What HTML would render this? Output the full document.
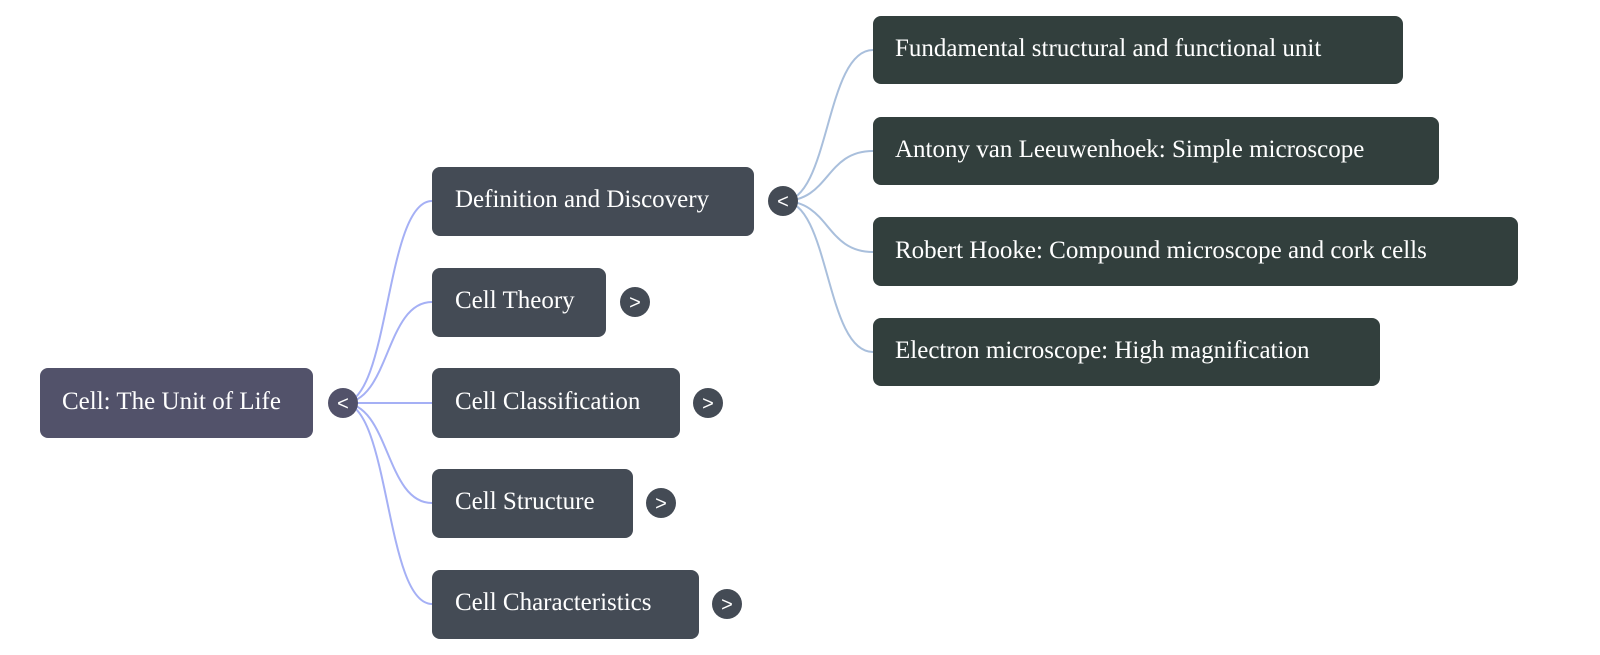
<!DOCTYPE html>
<html><head><meta charset="utf-8"><style>
html,body{margin:0;padding:0;background:#fff;width:1600px;height:655px;overflow:hidden}
text{font-family:"Liberation Serif",serif;font-size:25px;fill:#fff}
.c{font-family:"Liberation Sans",sans-serif;font-size:20px;text-anchor:middle}
</style></head><body>
<svg width="1600" height="655" viewBox="0 0 1600 655" xmlns="http://www.w3.org/2000/svg">
<g fill="none" stroke="#a5b0f5" stroke-width="2">
<path d="M343 403 C390 403,385 201,432 201"/>
<path d="M343 403 C390 403,385 302,432 302"/>
<path d="M343 403 L432 403"/>
<path d="M343 403 C390 403,385 503,432 503"/>
<path d="M343 403 C390 403,385 604,432 604"/>
</g>
<g fill="none" stroke="#a9bfdc" stroke-width="2">
<path d="M783 201 C830 201,825 50,873 50"/>
<path d="M783 201 C830 201,825 151,873 151"/>
<path d="M783 201 C830 201,825 252,873 252"/>
<path d="M783 201 C830 201,825 352,873 352"/>
</g>
<rect x="40" y="368" width="273" height="70" rx="8" fill="#52526a"/>
<text x="62" y="409">Cell: The Unit of Life</text>
<g fill="#444b55">
<rect x="432" y="167" width="322" height="69" rx="8"/>
<rect x="432" y="268" width="174" height="69" rx="8"/>
<rect x="432" y="368" width="248" height="70" rx="8"/>
<rect x="432" y="469" width="201" height="69" rx="8"/>
<rect x="432" y="570" width="267" height="69" rx="8"/>
</g>
<text x="455" y="207">Definition and Discovery</text>
<text x="455" y="308">Cell Theory</text>
<text x="455" y="409">Cell Classification</text>
<text x="455" y="509">Cell Structure</text>
<text x="455" y="610">Cell Characteristics</text>
<g fill="#323f3d">
<rect x="873" y="16" width="530" height="68" rx="8"/>
<rect x="873" y="117" width="566" height="68" rx="8"/>
<rect x="873" y="217" width="645" height="69" rx="8"/>
<rect x="873" y="318" width="507" height="68" rx="8"/>
</g>
<text x="895" y="56">Fundamental structural and functional unit</text>
<text x="895" y="157">Antony van Leeuwenhoek: Simple microscope</text>
<text x="895" y="258">Robert Hooke: Compound microscope and cork cells</text>
<text x="895" y="358">Electron microscope: High magnification</text>
<g fill="#444b55">
<circle cx="343" cy="403" r="15" fill="#52526a"/>
<circle cx="783" cy="201" r="15"/>
<circle cx="635" cy="302" r="15"/>
<circle cx="708" cy="403" r="15"/>
<circle cx="661" cy="503" r="15"/>
<circle cx="727" cy="604" r="15"/>
</g>
<text class="c" x="343" y="410">&lt;</text>
<text class="c" x="783" y="208">&lt;</text>
<text class="c" x="635" y="309">&gt;</text>
<text class="c" x="708" y="410">&gt;</text>
<text class="c" x="661" y="510">&gt;</text>
<text class="c" x="727" y="611">&gt;</text>
</svg>
</body></html>
